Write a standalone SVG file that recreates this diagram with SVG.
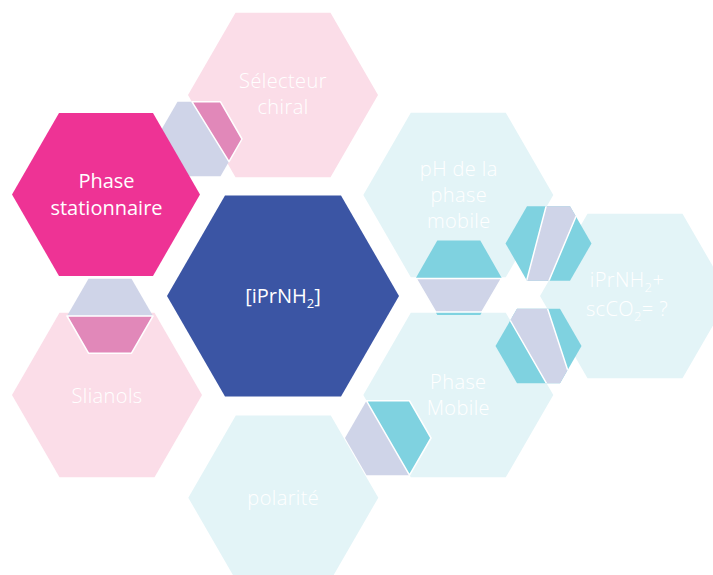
<svg xmlns="http://www.w3.org/2000/svg" width="713" height="575" viewBox="0 0 713 575">
  <defs>
    <style>
      .lp { fill: #FBDDE8; }
      .lc { fill: #E3F4F7; }
      .mg { fill: #EE3395; }
      .db { fill: #3B55A4; }
      .lav { fill: #CFD4E8; }
      .pk { fill: #E188B9; }
      .cy { fill: #7FD2E0; }
      .sep { stroke: #FFFFFF; stroke-width: 1.5; stroke-linejoin: round; }
      text { font-family: "Open Sans", "Liberation Sans", sans-serif; fill: #FFFFFF; text-anchor: middle; font-size: 20px; }
      .thin { font-weight: 300; letter-spacing: 0.4px; }
    </style>
    <clipPath id="clipD"><polygon points="505.5,243.5 527,206.3 570,206.3 591.5,243.5 570,280.7 527,280.7"/></clipPath>
    <clipPath id="clipE"><polygon points="495.5,346 517,308.8 560,308.8 581.5,346 560,383.2 517,383.2"/></clipPath>
  </defs>
  <rect width="713" height="575" fill="#FFFFFF"/>

  <g id="selecteur">
    <polygon class="lp" points="188,95 235.5,12.7 330.5,12.7 378,95 330.5,177.3 235.5,177.3"/>
    <text class="thin" x="283" y="88.3">Sélecteur</text>
    <text class="thin" x="283" y="114">chiral</text>
  </g>
  <g id="slianols">
    <polygon class="lp" points="12,395 59.5,312.7 154.5,312.7 202,395 154.5,477.3 59.5,477.3"/>
    <text class="thin" x="107" y="402.7">Slianols</text>
  </g>
  <g id="ph">
    <polygon class="lc" points="363.3,195 410.8,112.7 505.8,112.7 553.3,195 505.8,277.3 410.8,277.3"/>
    <text class="thin" x="458.8" y="176">pH de la</text>
    <text class="thin" x="458.8" y="202.3">phase</text>
    <text class="thin" x="458.8" y="228.3">mobile</text>
  </g>
  <g id="phase-mobile">
    <polygon class="lc" points="363.3,395 410.8,312.7 505.8,312.7 553.3,395 505.8,477.3 410.8,477.3"/>
    <text class="thin" x="458.3" y="389.3">Phase</text>
    <text class="thin" x="458.3" y="415">Mobile</text>
  </g>
  <g id="polarite">
    <polygon class="lc" points="188.3,497.7 235.8,415.4 330.8,415.4 378.3,497.7 330.8,580 235.8,580"/>
    <text class="thin" x="283.3" y="505">polarité</text>
  </g>
  <g id="iprnh2-scco2">
    <polygon class="lc" points="540,296 587.5,213.7 682.5,213.7 730,296 682.5,378.3 587.5,378.3"/>
    <text class="thin" x="627" y="286.7">iPrNH<tspan font-size="13" dy="5">2</tspan><tspan dy="-5">+</tspan></text>
    <text class="thin" x="627" y="315.7">scCO<tspan font-size="13" dy="5">2</tspan><tspan dy="-5">= ?</tspan></text>
  </g>

  <g id="connectors">
    <g id="conn-ps-selecteur">
      <polygon class="lav" points="156,139 177.5,101.8 220.5,101.8 242,139 220.5,176.2 177.5,176.2"/>
      <polygon class="pk sep" points="192,101.8 220.5,101.8 242,139 229,161.7"/>
    </g>
    <g id="conn-ps-slianols">
      <polygon class="lav" points="67,316 88.5,278.8 131.5,278.8 153,316"/>
      <polygon class="pk sep" points="67,316 153,316 131.5,353.2 88.5,353.2"/>
    </g>
    <g id="conn-ph-pm">
      <polygon class="cy" points="416,277.7 437.3,240.5 480.3,240.5 501.6,277.7 480.3,314.9 437.3,314.9"/>
      <polygon class="lav sep" points="416,278.5 501.6,278.5 482,312 435.6,312"/>
    </g>
    <g id="conn-ph-ipr">
      <polygon class="cy" points="505.5,243.5 527,206.3 570,206.3 591.5,243.5 570,280.7 527,280.7"/>
      <polygon class="lav sep" clip-path="url(#clipD)" points="546.7,204 571,204 577,214 548,283 526,283"/>
    </g>
    <g id="conn-pm-ipr">
      <polygon class="cy" points="495.5,346 517,308.8 560,308.8 581.5,346 560,383.2 517,383.2"/>
      <polygon class="lav sep" clip-path="url(#clipE)" points="515,306 546.7,306 568,371 562,386 548,386 510,320"/>
    </g>
    <g id="conn-pm-polarite">
      <polygon class="lav" points="345,438 366.5,400.8 409.5,475.2 366.5,475.2"/>
      <polygon class="cy sep" points="366.5,400.8 409.5,400.8 431,438 409.5,475.2"/>
    </g>
  </g>

  <g id="phase-stationnaire">
    <polygon class="mg" points="12,194.5 59,113.1 153,113.1 200,194.5 153,275.9 59,275.9"/>
    <text x="106.5" y="188.3" font-size="20.5">Phase</text>
    <text x="106.5" y="215" font-size="20.5">stationnaire</text>
  </g>
  <g id="iprnh2">
    <polygon class="db" points="167,296 225,195.5 341,195.5 399,296 341,396.5 225,396.5"/>
    <text x="283" y="303.3" font-size="21">[iPrNH<tspan font-size="13" dy="5">2</tspan><tspan dy="-5">]</tspan></text>
  </g>
</svg>
